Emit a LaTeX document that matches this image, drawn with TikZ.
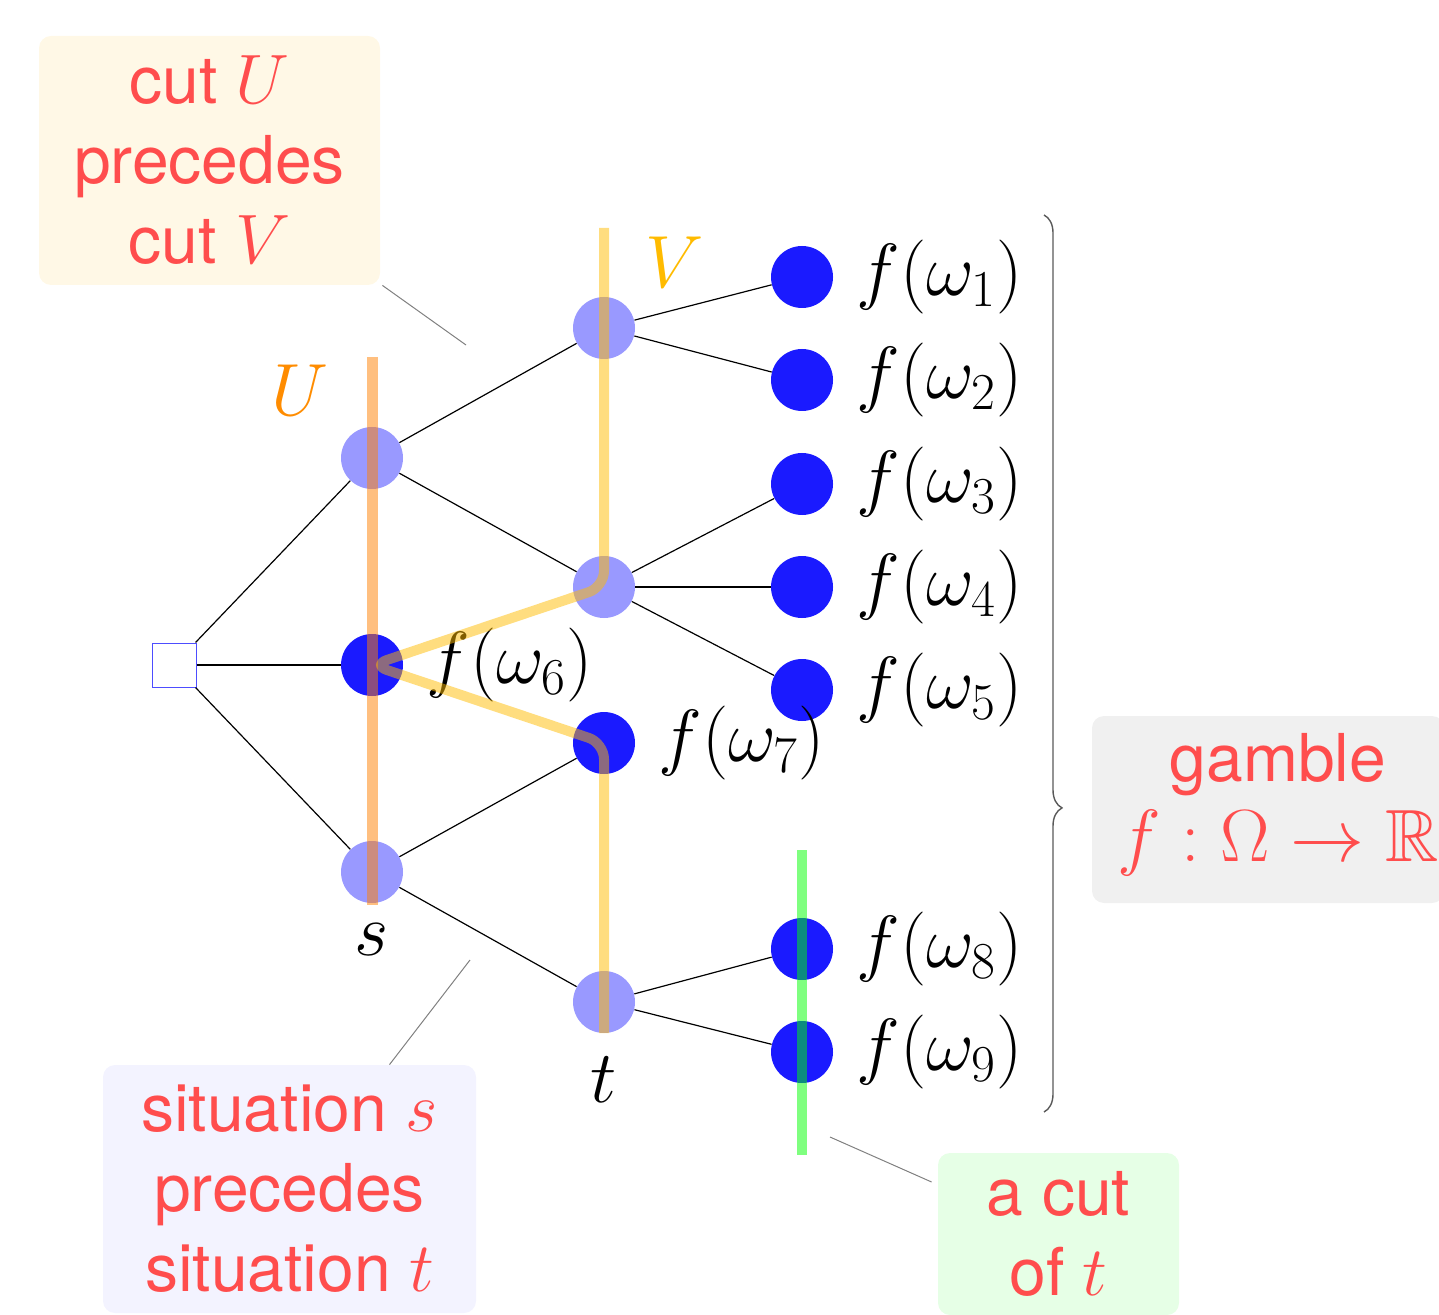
\RequirePackage{fix-cm}
\documentclass[tikz,border=0pt]{standalone}
\usepackage{amssymb}
\usepackage{fontspec}
\setmainfont{TeX Gyre Heros}
\usetikzlibrary{decorations.pathreplacing}
\definecolor{txtred}{HTML}{FF4D4D}
\definecolor{lightnode}{HTML}{9999FF}
\definecolor{darknode}{HTML}{1A1AFF}
\definecolor{rootblue}{HTML}{4D4DFF}
\definecolor{boxcream}{HTML}{FFF8E6}
\definecolor{boxlav}{HTML}{F3F3FF}
\definecolor{boxgreen}{HTML}{E6FFE6}
\definecolor{boxgray}{HTML}{F0F0F0}
\definecolor{cutorange}{HTML}{FF8000}
\definecolor{cutyellow}{HTML}{FFBB00}
\definecolor{cutgreen}{HTML}{00FF00}
\definecolor{labU}{HTML}{FF8C00}
\definecolor{labV}{HTML}{FFBB00}
\begin{document}
\begin{tikzpicture}[x=0.5pt,y=-0.5pt,
  edge/.style={line width=0.6pt, black},
  lnode/.style={circle, fill=lightnode, minimum size=31pt, inner sep=0pt},
  dnode/.style={circle, fill=darknode, minimum size=31pt, inner sep=0pt},
  rootbox/.style={rectangle, draw=rootblue, fill=white, line width=0.5pt, minimum size=22pt, inner sep=0pt},
  lbl/.style={font=\fontsize{37}{40}\selectfont, inner sep=0pt},
  infobox/.style={rounded corners=6pt, inner sep=0pt, font=\fontsize{33}{40}\selectfont, text=txtred, align=center},
  callout/.style={gray, line width=0.5pt},
  cutline/.style={line width=5.5pt, opacity=0.5}]
\useasboundingbox (0,0) rectangle (1439,1315);

% info boxes
\node[infobox, fill=boxcream, minimum width=170.5pt, minimum height=124.5pt] (cutUV) at (209.5,160.5) {cut {\fontsize{35}{40}\selectfont$U$}\\precedes\\cut {\fontsize{35}{40}\selectfont$V$}};
\node[infobox, fill=boxlav, minimum width=186.5pt, minimum height=124pt] (sit) at (289.5,1189) {situation {\fontsize{35}{40}\selectfont$s$}\\precedes\\situation {\fontsize{35}{40}\selectfont$t$}};
\node[infobox, fill=boxgreen, minimum width=120.5pt, minimum height=81pt] (acut) at (1058.5,1234) {a cut\\of {\fontsize{35}{40}\selectfont$t$}};
\node[infobox, fill=boxgray, minimum width=176pt, minimum height=93.5pt] (gamble) at (1268,809.5) {};
\node[font=\fontsize{33}{40}\selectfont, text=txtred, align=center, inner sep=0pt] (gtext) at (1278,805) {gamble\\{\fontsize{37}{40}\selectfont$f:\Omega\to\mathbb{R}$}};

% callouts
\coordinate (c1) at (466,345);
\coordinate (c2) at (470,960);
\coordinate (c3) at (830,1137);
\draw[callout] ([xshift=1pt]cutUV.south east) -- (c1);
\draw[callout] ([xshift=50pt]sit.north) -- (c2);
\draw[callout] ([shift={(-3pt,26pt)}]acut.west) -- (c3);

% tree nodes
\node[rootbox] (r) at (174,665) {};
\node[lnode] (a) at (372,458) {};
\node[dnode] (b) at (372,665) {};
\node[lnode] (c) at (372,872) {};
\node[lnode] (d) at (604,328) {};
\node[lnode] (e) at (604,587) {};
\node[dnode] (g) at (604,743) {};
\node[lnode] (h) at (604,1002) {};
\node[dnode] (w1) at (802,277) {};
\node[dnode] (w2) at (802,380) {};
\node[dnode] (w3) at (802,484) {};
\node[dnode] (w4) at (802,587) {};
\node[dnode] (w5) at (802,690) {};
\node[dnode] (w8) at (802,949) {};
\node[dnode] (w9) at (802,1052) {};

\draw[edge] (r) -- (a);
\draw[edge] (r) -- (b);
\draw[edge] (r) -- (c);
\draw[edge] (a) -- (d);
\draw[edge] (a) -- (e);
\draw[edge] (c) -- (g);
\draw[edge] (c) -- (h);
\draw[edge] (d) -- (w1);
\draw[edge] (d) -- (w2);
\draw[edge] (e) -- (w3);
\draw[edge] (e) -- (w4);
\draw[edge] (e) -- (w5);
\draw[edge] (h) -- (w8);
\draw[edge] (h) -- (w9);

% labels
\node[lbl, anchor=west] (f1) at (856,277) {$f(\omega_1)$};
\node[lbl, anchor=west] (f2) at (856,380) {$f(\omega_2)$};
\node[lbl, anchor=west] (f3) at (856,484) {$f(\omega_3)$};
\node[lbl, anchor=west] (f4) at (856,587) {$f(\omega_4)$};
\node[lbl, anchor=west] (f5) at (856,690) {$f(\omega_5)$};
\node[lbl, anchor=west] (f6) at (426,665) {$f(\omega_6)$};
\node[lbl, anchor=west] (f7) at (658,743) {$f(\omega_7)$};
\node[lbl, anchor=west] (f8) at (856,949) {$f(\omega_8)$};
\node[lbl, anchor=west] (f9) at (856,1052) {$f(\omega_9)$};
\node[lbl] (sl) at (372,940) {$s$};
\node[lbl] (tl) at (604,1080) {$t$};
\node[lbl, text=labU] (Ul) at (300,390) {$U$};
\node[lbl, text=labV] (Vl) at (675,262) {$V$};

% brace
\coordinate (bt) at (1044,215);
\coordinate (bb) at (1044,1112);
\draw[gray!70!black, line width=0.7pt, decorate, decoration={brace, amplitude=9pt, aspect=0.661}] (bt) -- (bb);

% cuts
\coordinate (u1) at (372,357);
\coordinate (u2) at (372,905);
\draw[cutline, cutorange] (u1) -- (u2);
\coordinate (v1) at (604,228);
\coordinate (v2) at (604,1033);
\draw[cutline, cutyellow, line width=5pt, rounded corners=8pt, line join=round] (v1) -- (e.center) -- (b.center) -- (g.center) -- (v2);
\coordinate (g1) at (802,850);
\coordinate (g2) at (802,1155);
\draw[cutline, cutgreen, line width=5pt] (g1) -- (g2);
\end{tikzpicture}
\end{document}
